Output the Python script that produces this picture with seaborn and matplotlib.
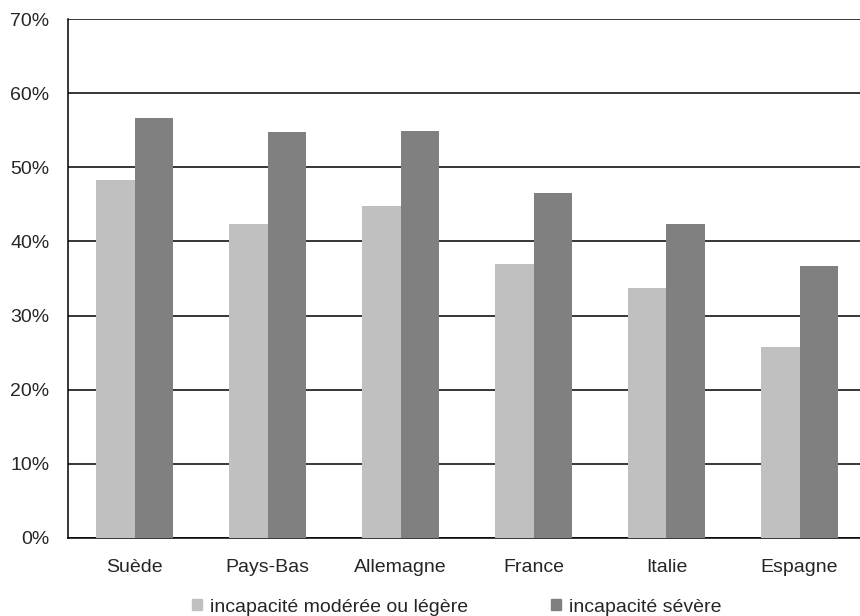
import pandas as pd
import matplotlib.pyplot as plt
import matplotlib.patches as mpatches
import matplotlib.ticker as mticker
import seaborn as sns

# Data
pays = ["Suède", "Pays-Bas", "Allemagne", "France", "Italie", "Espagne"]
moderee = [48.3, 42.4, 44.8, 37.0, 33.7, 25.7]
severe = [56.7, 54.7, 54.9, 46.5, 42.3, 36.7]
series = ["incapacité modérée ou légère", "incapacité sévère"]
colors = ["#c0c0c0", "#808080"]

df = pd.DataFrame({
    "pays": pays * 2,
    "valeur": moderee + severe,
    "serie": [series[0]] * len(pays) + [series[1]] * len(pays),
})

sns.set_style("white")
plt.rcParams["font.family"] = ["Liberation Sans", "DejaVu Sans"]
plt.rcParams["font.size"] = 14

fig = plt.figure(figsize=(8.6, 6.16), dpi=100)
# axes spans x 68 -> 866 px (right edge just outside the figure), y 19 -> 538 px
ax = fig.add_axes([68 / 860, (616 - 538) / 616, 798 / 860, (538 - 19) / 616])

sns.barplot(data=df, x="pays", y="valeur", hue="serie", palette=colors,
            width=0.586, gap=0, linewidth=0, ax=ax, legend=False, zorder=3)

ax.set_ylim(0, 70)
ax.set_xlim(-0.5, 5.5)
ax.yaxis.set_major_locator(mticker.MultipleLocator(10))
ax.yaxis.set_major_formatter(mticker.FuncFormatter(lambda v, p: f"{v:.0f}%"))
ax.grid(axis="y", color="black", linewidth=1.1, zorder=1)
ax.set_axisbelow(True)
ax.set_xlabel("")
ax.set_ylabel("")

for s in ["top", "right"]:
    ax.spines[s].set_visible(False)
for s in ["left", "bottom"]:
    ax.spines[s].set_color("black")
    ax.spines[s].set_linewidth(1.1)

ax.tick_params(axis="y", which="major", direction="out", length=4.3, width=1.1,
               color="black", pad=9, labelsize=14)
ax.tick_params(axis="x", which="major", length=0, pad=15, labelsize=14)
ax.set_xticks([i - 0.5 for i in range(7)], minor=True)
ax.tick_params(axis="x", which="minor", direction="out", length=4.3, width=1.1, color="black")

handles = [mpatches.Patch(color=c, label=l) for c, l in zip(colors, series)]
fig.legend(handles=handles, loc="center", bbox_to_anchor=(0.531, 1 - 607 / 616),
           ncol=2, frameon=False, handlelength=0.5, handleheight=0.5,
           handletextpad=0.4, columnspacing=4.3, fontsize=14)

fig.savefig("out.png", dpi=100)
